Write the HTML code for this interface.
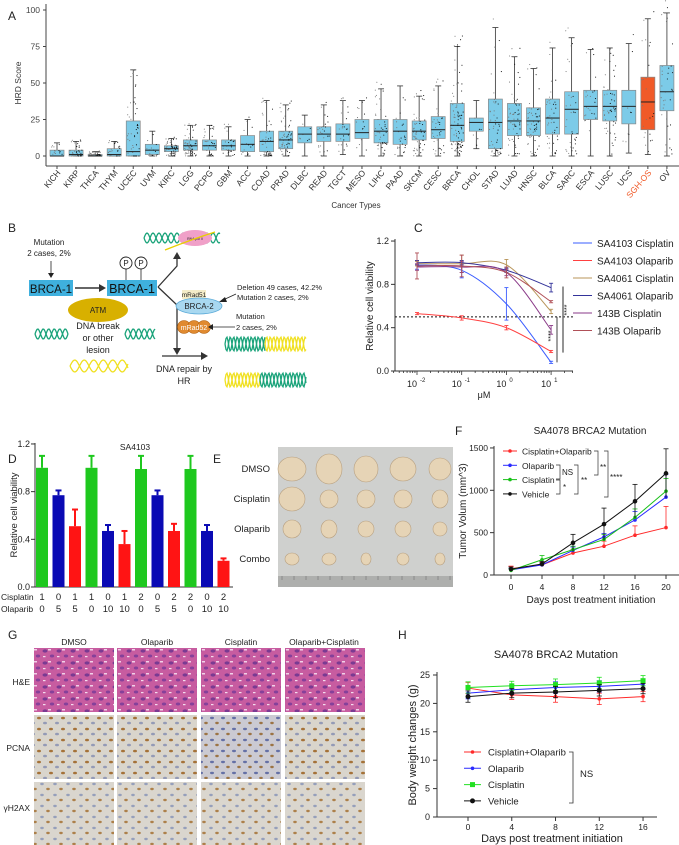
<!DOCTYPE html>
<html><head><meta charset="utf-8"><style>
html,body{margin:0;padding:0;background:#fff;}
svg{display:block;font-family:"Liberation Sans",Arial,sans-serif;}
</style></head><body>
<svg id="fig" width="679" height="845" viewBox="0 0 679 845" xmlns="http://www.w3.org/2000/svg">
<defs>
<pattern id="he" width="14" height="12" patternUnits="userSpaceOnUse">
<rect width="14" height="12" fill="#c75ca0"/>
<ellipse cx="3" cy="3" rx="2.5" ry="1.6" fill="#7a3a92"/>
<ellipse cx="10" cy="8" rx="2.2" ry="1.5" fill="#85409a"/>
<rect x="6" y="1" width="3" height="1.5" fill="#f0d0e8"/>
<rect x="1" y="8" width="2.5" height="1.2" fill="#f4dcee"/>
</pattern>
<pattern id="ihcA" width="12" height="11" patternUnits="userSpaceOnUse">
<rect width="12" height="11" fill="#d9d5cc"/>
<ellipse cx="3" cy="3" rx="2" ry="1.3" fill="#a57238"/>
<ellipse cx="9" cy="8" rx="2" ry="1.3" fill="#939ab6"/>
</pattern>
<pattern id="ihcB" width="13" height="11" patternUnits="userSpaceOnUse">
<rect width="13" height="11" fill="#dad6ce"/>
<ellipse cx="3" cy="3" rx="1.8" ry="1.2" fill="#959fbb"/>
<ellipse cx="9" cy="8" rx="1.8" ry="1.2" fill="#ad804a"/>
</pattern>
<pattern id="ihcC" width="11" height="11" patternUnits="userSpaceOnUse">
<rect width="11" height="11" fill="#cbcad2"/>
<ellipse cx="3" cy="3" rx="2" ry="1.2" fill="#6470a6"/>
<ellipse cx="8" cy="8" rx="1.8" ry="1.2" fill="#9c7444"/>
</pattern>
</defs>
</svg>
<script>
// ---------- DATA ----------
const cancerTypes=["KICH","KIRP","THCA","THYM","UCEC","UVM","KIRC","LGG","PCPG","GBM","ACC","COAD","PRAD","DLBC","READ","TGCT","MESO","LIHC","PAAD","SKCM","CESC","BRCA","CHOL","STAD","LUAD","HNSC","BLCA","SARC","ESCA","LUSC","UCS","SGH-OS","OV"];
const hrdMedian=[0,1,0,1,3,4,5,7,7,7,8,10,11,15,15,15,16,17,17,17,18,21,23,23,24,24,26,32,34,34,34,37,44];
const hrdQ1=[0,0,0,0,0,1,3,4,4,4,3,3,5,9,10,10,12,9,8,11,12,10,17,5,14,14,15,15,25,24,22,18,31];
const hrdQ3=[4,4,1,5,24,8,7,11,11,11,14,17,17,20,20,22,25,25,25,24,27,36,26,39,36,33,39,44,45,45,45,54,62];
const hrdLo=[0,0,0,0,0,0,0,0,0,0,0,0,0,0,0,1,0,0,0,0,0,0,5,0,0,0,0,0,0,0,2,1,0];
const hrdHi=[9,10,3,10,59,17,12,21,21,20,25,38,35,28,35,38,38,46,48,41,48,75,38,88,68,60,74,81,73,74,77,94,98];
const hrdCount=[20,40,50,25,60,15,50,60,30,30,15,45,55,8,25,25,15,50,25,50,35,90,6,50,55,55,45,35,25,55,10,25,35];
const hrdTicks=[0,25,50,75,100];

const concs=[0.01,0.1,1,10];
const cNames=["SA4103 Cisplatin","SA4103 Olaparib","SA4061 Cisplatin","SA4061 Olaparib","143B Cisplatin","143B Olaparib"];
const cS1=[0.98,0.93,0.62,0.08];
const cS2=[0.53,0.49,0.40,0.18];
const cS3=[0.99,0.99,0.98,0.55];
const cS4=[1.00,1.00,0.93,0.77];
const cS5=[0.96,0.96,0.91,0.38];
const cS6=[0.97,0.97,0.91,0.64];
const cErr=[[0.04,0.07,0.15,0.01],[0.01,0.02,0.02,0.01],[0.02,0.08,0.05,0.02],[0.02,0.02,0.02,0.04],[0.03,0.05,0.03,0.04],[0.12,0.1,0.05,0.01]];
const cTicks=[0,0.4,0.8,1.2];

const dCis=["1","0","1","1","0","1","2","0","2","2","0","2"];
const dOla=["0","5","5","0","10","10","0","5","5","0","10","10"];
const dVals=[1.0,0.77,0.51,1.0,0.47,0.36,0.99,0.77,0.47,0.99,0.47,0.22];
const dErr=[0.1,0.04,0.14,0.1,0.05,0.11,0.11,0.04,0.06,0.11,0.05,0.02];
const dTicks=[0,0.4,0.8,1.2];

const fDays=[0,4,8,12,16,20];
const fNames=["Cisplatin+Olaparib","Olaparib","Cisplatin","Vehicle"];
const fCombo=[75,120,260,340,470,560];
const fOla=[60,120,290,450,650,920];
const fCis=[55,180,300,420,680,990];
const fVeh=[70,130,380,600,870,1200];
const fComboErr=[30,30,40,60,110,250];
const fOlaErr=[20,20,40,40,100,270];
const fCisErr=[20,50,40,60,100,150];
const fVehErr=[25,30,100,190,200,290];
const fTicks=[0,500,1000,1500];

const hDays=[0,4,8,12,16];
const hCombo=[22.7,21.5,21.2,20.8,21.2];
const hOla=[21.8,22.4,22.8,23.0,23.4];
const hCis=[22.8,23.1,23.3,23.6,24.0];
const hVeh=[21.2,21.8,22.0,22.3,22.6];
const hErr=[1.0,0.8,1.0,1.0,0.9];
const hTicks=[0,5,10,15,20,25];

// ---------- HELPERS ----------
const svg=document.getElementById('fig');
const NS='http://www.w3.org/2000/svg';
function mk(tag,attrs,name,parent){
  const el=document.createElementNS(NS,tag);
  for(const k in attrs) el.setAttribute(k,attrs[k]);
  
  
  (parent||svg).appendChild(el);
  return el;
}
function txt(x,y,s,size,name,extra){
  const a=Object.assign({x:x,y:y,'font-size':size,fill:'#222'},extra||{});
  const t=mk('text',a,name);
  t.textContent=s;
  return t;
}
function line(x1,y1,x2,y2,stroke,w,name,extra){
  return mk('line',Object.assign({x1:x1,y1:y1,x2:x2,y2:y2,stroke:stroke,'stroke-width':w},extra||{}),name);
}
function crPath(pts){
  let d='M'+pts[0][0]+','+pts[0][1];
  for(let i=0;i<pts.length-1;i++){
    const p0=pts[i-1]||pts[i],p1=pts[i],p2=pts[i+1],p3=pts[i+2]||pts[i+1];
    const c1=[p1[0]+(p2[0]-p0[0])/6,p1[1]+(p2[1]-p0[1])/6];
    const c2=[p2[0]-(p3[0]-p1[0])/6,p2[1]-(p3[1]-p1[1])/6];
    d+=' C'+c1[0]+','+c1[1]+' '+c2[0]+','+c2[1]+' '+p2[0]+','+p2[1];
  }
  return d;
}
let seed=7;function rnd(){seed=(seed*16807)%2147483647;return seed/2147483647;}

// panel labels
[["A",8,20],["B",8,232],["C",414,232],["D",8,463],["E",213,463],["F",455,435],["G",8,639],["H",398,639]].forEach(p=>{
  txt(p[1],p[2],p[0],12,'panel-label-'+p[0].toLowerCase());
});

// ---------- PANEL A ----------
const xA=i=>57+i*19.06;
const yA=v=>156-v*1.46;
line(46,4,46,166,'#444',1,'a-y-axis');
line(46,166,679,166,'#444',1,'a-x-axis');
hrdTicks.forEach(t=>{
  line(43,yA(t),46,yA(t),'#444',1,'a-y-tick');
  txt(40,yA(t)+3,String(t),8.5,'a-y-tick-label',{'text-anchor':'end',fill:'#444'});
});
txt(0,0,'HRD Score',8.5,'a-y-axis-title',{transform:'translate(21,83) rotate(-90)','text-anchor':'middle',fill:'#333'});
txt(356,208,'Cancer Types',8,'a-x-axis-title',{'text-anchor':'middle',fill:'#333'});
cancerTypes.forEach((c,i)=>{
  const cx=xA(i),orange=c==='SGH-OS';
  line(cx,yA(hrdLo[i]),cx,yA(hrdHi[i]),'#333',0.8,'a-whisker-'+c);
  line(cx-3,yA(hrdHi[i]),cx+3,yA(hrdHi[i]),'#333',0.8,'a-whisker-cap-'+c);
  line(cx-3,yA(hrdLo[i]),cx+3,yA(hrdLo[i]),'#333',0.8,'a-whisker-cap-'+c);
  mk('rect',{x:cx-7,y:yA(hrdQ3[i]),width:14,height:Math.max(1,yA(hrdQ1[i])-yA(hrdQ3[i])),fill:orange?'#f05a28':'#7ccbe8',stroke:'#888','stroke-width':0.7},'a-box-'+c);
  const n=hrdCount[i];
  for(let k=0;k<n;k++){
    const u=rnd(),w=rnd();
    let v;
    if(u<0.5) v=hrdQ1[i]+(hrdQ3[i]-hrdQ1[i])*rnd();
    else if(u<0.8) v=hrdLo[i]+(hrdQ1[i]-hrdLo[i])*rnd();
    else v=hrdQ3[i]+(hrdHi[i]*1.1-hrdQ3[i])*rnd();
    mk('circle',{cx:cx-6+12*w,cy:yA(v),r:0.55,fill:w>0.5?'#111':'#777'},'a-point-'+c);
  }
  line(cx-7,yA(hrdMedian[i]),cx+7,yA(hrdMedian[i]),'#222',1,'a-median-'+c);
  line(cx,166,cx,169,'#444',1,'a-x-tick');
  txt(0,0,c,8.5,'a-x-tick-label-'+c,{transform:'translate('+(cx+4)+',173) rotate(-50)','text-anchor':'end',fill:orange?'#f05a28':'#333'});
});

// ---------- PANEL B (diagram) ----------
function helix(x0,x1,y,amp,per,col,name){
  let d1='',d2='';
  for(let x=x0;x<=x1;x+=1){
    const a=Math.sin((x-x0)/per*2*Math.PI)*amp;
    d1+=(x===x0?'M':'L')+x+','+(y+a);
    d2+=(x===x0?'M':'L')+x+','+(y-a);
  }
  mk('path',{d:d1,fill:'none',stroke:col,'stroke-width':1.3},name);
  mk('path',{d:d2,fill:'none',stroke:col,'stroke-width':1.3},name);
}
txt(49,245,'Mutation',8,'b-mutation-text-1',{'text-anchor':'middle'});
txt(49,256,'2 cases, 2%',8,'b-mutation-text-1b',{'text-anchor':'middle'});
line(51,261,51,276,'#222',0.8,'b-arrow-mutation-1');
mk('path',{d:'M48,273 L51,278 L54,273 Z',fill:'#222'},'b-arrowhead');
mk('rect',{x:29,y:280,width:44,height:16,fill:'#3fb0de'},'b-brca1-box');
txt(51,293,'BRCA-1',11.5,'b-brca1-label',{'text-anchor':'middle',fill:'#111'});
line(75,288,101,288,'#333',1.5,'b-arrow-brca1');
mk('path',{d:'M99,284 L106,288 L99,292 Z',fill:'#333'},'b-arrowhead');
mk('rect',{x:107,y:280,width:50,height:16,fill:'#3fb0de'},'b-brca1-p-box');
txt(132,293,'BRCA-1',12.5,'b-brca1-p-label',{'text-anchor':'middle',fill:'#111'});
[126,141].forEach(x=>{
  line(x,268,x,280,'#222',0.8,'b-phospho-stem');
  mk('circle',{cx:x,cy:263,r:6,fill:'#fff',stroke:'#222','stroke-width':0.9},'b-phospho-circle');
  txt(x,266,'P',8,'b-phospho-label',{'text-anchor':'middle'});
});
mk('path',{d:'M158,287 L177,266 L177,258',fill:'none',stroke:'#333','stroke-width':1.3},'b-branch-up');
mk('path',{d:'M173,259 L177,252 L181,259 Z',fill:'#333'},'b-arrowhead');
mk('path',{d:'M158,287 L177,305 L177,350',fill:'none',stroke:'#333','stroke-width':1.3},'b-branch-down');
mk('path',{d:'M173,348 L177,355 L181,348 Z',fill:'#333'},'b-arrowhead');
line(162,356,203,356,'#333',1.3,'b-arrow-hr');
mk('path',{d:'M201,352 L208,356 L201,360 Z',fill:'#333'},'b-arrowhead');
helix(144,220,238,5,12,'#1aa37a','b-dna-top');
mk('ellipse',{cx:195,cy:238,rx:17,ry:8,fill:'#f0a0c8'},'b-rna-pol');
txt(195,240,'RNA pol II',3.5,'b-rna-pol-label',{'text-anchor':'middle'});
mk('path',{d:'M165,250 Q190,240 215,232',fill:'none',stroke:'#e8d000','stroke-width':1.3},'b-rna-strand');
mk('rect',{x:182,y:290,width:24,height:9,fill:'#f4ecc8'},'b-mrad51-box');
txt(194,297,'mRad51',6.5,'b-mrad51-label',{'text-anchor':'middle'});
mk('ellipse',{cx:199,cy:306,rx:23,ry:8,fill:'#a8d8f0',stroke:'#5aaad8','stroke-width':0.8},'b-brca2');
txt(199,309,'BRCA-2',8,'b-brca2-label',{'text-anchor':'middle'});
[184,194,204].forEach(x=>mk('circle',{cx:x,cy:327,r:6.5,fill:'#e08a30',stroke:'#b06010','stroke-width':0.6},'b-mrad52-sphere'));
txt(194,330,'mRad52',7,'b-mrad52-label',{'text-anchor':'middle',fill:'#fff'});
txt(237,290,'Deletion  49 cases, 42.2%',7.5,'b-deletion-text');
txt(237,300,'Mutation  2 cases, 2%',7.5,'b-mutation-text-2');
line(236,294,223,300,'#222',0.8,'b-arrow-deletion');
mk('path',{d:'M225,297 L219,302 L227,302 Z',fill:'#222'},'b-arrowhead');
txt(236,319,'Mutation',7.5,'b-mutation-text-3');
txt(236,330,'2 cases, 2%',7.5,'b-mutation-text-3b');
line(235,327,212,327,'#222',0.8,'b-arrow-mutation-3');
mk('path',{d:'M213,324 L208,327 L213,330 Z',fill:'#222'},'b-arrowhead');
mk('ellipse',{cx:98,cy:310,rx:30,ry:12,fill:'#d8b000'},'b-atm');
txt(98,313,'ATM',8,'b-atm-label',{'text-anchor':'middle'});
txt(98,329,'DNA break',9,'b-dna-break-text',{'text-anchor':'middle'});
txt(98,341,'or other',9,'b-dna-break-text-2',{'text-anchor':'middle'});
txt(98,353,'lesion',9,'b-dna-break-text-3',{'text-anchor':'middle'});
helix(35,68,334,5,11,'#1aa37a','b-dna-broken-left');
helix(125,155,334,5,11,'#1aa37a','b-dna-broken-right');
helix(70,128,366,6,19,'#f0e020','b-dna-yellow');
txt(184,372,'DNA repair by',9,'b-dna-repair-text',{'text-anchor':'middle'});
txt(184,384,'HR',9,'b-dna-repair-text-2',{'text-anchor':'middle'});
helix(225,265,344,7,7,'#1aa37a','b-dna-repaired-1a');
helix(265,306,344,7,7,'#f0e020','b-dna-repaired-1b');
helix(225,260,380,7,7,'#f0e020','b-dna-repaired-2a');
helix(260,306,380,7,7,'#1aa37a','b-dna-repaired-2b');

// ---------- PANEL C ----------
const xC=c=>417+(Math.log10(c)+2)*44.7;
const yC=v=>371-v*108.3;
const cCols=['#3a5cff','#ff4040','#b8955a','#33339a','#8a3a88','#b05058'];
const cSeries=[cS1,cS2,cS3,cS4,cS5,cS6];
line(395,239,395,371,'#333',1,'c-y-axis');
line(395,371,573,371,'#333',1,'c-x-axis');
cTicks.forEach(t=>{
  line(391,yC(t),395,yC(t),'#333',1,'c-y-tick');
  txt(389,yC(t)+3,t.toFixed(1),9,'c-y-tick-label',{'text-anchor':'end'});
});
for(let e=-3;e<=1;e++){
  for(let m=1;m<10;m++){
    const v=m*Math.pow(10,e);
    if(v<0.003||v>35)continue;
    line(xC(v),371,xC(v),m===1?375:373,'#333',0.8,'c-x-tick');
  }
}
[-2,-1,0,1].forEach(e=>{
  txt(xC(Math.pow(10,e))-5,387,'10',9,'c-x-tick-label',{'text-anchor':'middle'});
  txt(xC(Math.pow(10,e))+3,382,String(e),6,'c-x-tick-exp');
});
txt(484,398,'μM',9,'c-x-axis-title',{'text-anchor':'middle'});
txt(0,0,'Relative cell viability',10,'c-y-axis-title',{transform:'translate(373,306) rotate(-90)','text-anchor':'middle'});
line(395,yC(0.5),573,yC(0.5),'#111',1,'c-ic50-line',{'stroke-dasharray':'2,2'});
cSeries.forEach((s,si)=>{
  const pts=concs.map((c,i)=>[xC(c),yC(s[i])]);
  mk('path',{d:crPath(pts),fill:'none',stroke:cCols[si],'stroke-width':1},'c-curve-'+si);
  concs.forEach((c,i)=>{
    const e=cErr[si][i],x=xC(c);
    line(x,yC(s[i]+e),x,yC(s[i]-e),cCols[si],0.9,'c-errorbar');
    line(x-2,yC(s[i]+e),x+2,yC(s[i]+e),cCols[si],0.9,'c-errorcap');
    line(x-2,yC(s[i]-e),x+2,yC(s[i]-e),cCols[si],0.9,'c-errorcap');
  });
  const ly=243+si*17.5;
  line(573,ly,592,ly,cCols[si],1,'c-legend-line-'+si);
  txt(597,ly+4,cNames[si],10,'c-legend-entry-'+si);
});
line(557,yC(0.5),557,yC(0.08),'#111',0.8,'c-sig-bar-1');
txt(0,0,'****',7,'c-sig-label-1',{transform:'translate(553,336) rotate(-90)','text-anchor':'middle'});
line(563,yC(0.78),563,yC(0.17),'#666',1.4,'c-sig-bar-2');
txt(0,0,'****',7,'c-sig-label-2',{transform:'translate(569,310) rotate(-90)','text-anchor':'middle'});

// ---------- PANEL D ----------
const xD=i=>42+i*16.5;
const yD=v=>587-v*119.2;
const dCols=['#1ec81e','#0a0ab4','#ff1414'];
line(35,443,35,587,'#333',1,'d-y-axis');
line(35,587,233,587,'#333',1,'d-x-axis');
dTicks.forEach(t=>{
  line(31,yD(t),35,yD(t),'#333',1,'d-y-tick');
  txt(30,yD(t)+3,t.toFixed(1),9,'d-y-tick-label',{'text-anchor':'end'});
});
txt(0,0,'Relative cell viability',9.5,'d-y-axis-title',{transform:'translate(17,515) rotate(-90)','text-anchor':'middle'});
txt(135,450,'SA4103',8.5,'d-title',{'text-anchor':'middle'});
dVals.forEach((v,i)=>{
  const col=dCols[i%3],x=xD(i);
  line(x,yD(v),x,yD(v+dErr[i]),col,2,'d-errorbar');
  line(x-3,yD(v+dErr[i]),x+3,yD(v+dErr[i]),col,2,'d-errorcap');
  mk('rect',{x:x-6,y:yD(v),width:12,height:yD(0)-yD(v),fill:col},'d-bar-'+i);
  txt(x,600,dCis[i],9.5,'d-cisplatin-dose',{'text-anchor':'middle'});
  txt(x,612,dOla[i],9.5,'d-olaparib-dose',{'text-anchor':'middle'});
});
txt(1,600,'Cisplatin',8.5,'d-row-label-cisplatin');
txt(1,612,'Olaparib',8.5,'d-row-label-olaparib');

// ---------- PANEL E (photo) ----------
mk('rect',{x:278,y:447,width:175,height:140,fill:'#cfd0ce'},'e-photo');
mk('rect',{x:278,y:576,width:175,height:11,fill:'#aeafad'},'e-ruler');
for(let k=0;k<15;k++) line(282+k*12,576,282+k*12,580,'#666',0.5,'e-ruler-mark');
const eRows=["DMSO","Cisplatin","Olaparib","Combo"];
const eSizes=[[[14,12],[13,15],[12,13],[13,12],[11,11]],[[13,12],[9,9],[9,9],[9,9],[8,9]],[[9,9],[8,9],[8,8],[8,8],[7,7]],[[7,6],[7,6],[5,6],[6,6],[5,6]]];
eRows.forEach((r,ri)=>{
  const y=469+ri*30;
  txt(270,y+3,r,9.5,'e-row-label-'+r.toLowerCase(),{'text-anchor':'end'});
  eSizes[ri].forEach((s,ci)=>{
    mk('ellipse',{cx:292+ci*37,cy:y,rx:s[0],ry:s[1],fill:'#e6d4b6',stroke:'#b8a080','stroke-width':0.6},'e-tumor');
  });
});

// ---------- PANEL F ----------
const xF=d=>511+d*7.75;
const yF=v=>575-v*0.0847;
const fCols=['#ff2a2a','#2a2aff','#18c018','#111'];
const fSeries=[fCombo,fOla,fCis,fVeh];
const fErrs=[fComboErr,fOlaErr,fCisErr,fVehErr];
txt(590,434,'SA4078 BRCA2 Mutation',10,'f-title',{'text-anchor':'middle'});
line(494,446,494,575,'#333',1,'f-y-axis');
line(494,575,679,575,'#333',1,'f-x-axis');
fTicks.forEach(t=>{
  line(490,yF(t),494,yF(t),'#333',1,'f-y-tick');
  txt(488,yF(t)+3,String(t),8.5,'f-y-tick-label',{'text-anchor':'end'});
});
fDays.forEach(d=>{
  line(xF(d),575,xF(d),579,'#333',1,'f-x-tick');
  txt(xF(d),590,String(d),8.5,'f-x-tick-label',{'text-anchor':'middle'});
});
txt(591,603,'Days post treatment initiation',10,'f-x-axis-title',{'text-anchor':'middle'});
txt(0,0,'Tumor Volum (mm^3)',10,'f-y-axis-title',{transform:'translate(466,511) rotate(-90)','text-anchor':'middle'});
fSeries.forEach((s,si)=>{
  const pts=fDays.map((d,i)=>xF(d)+','+yF(s[i])).join(' ');
  mk('polyline',{points:pts,fill:'none',stroke:fCols[si],'stroke-width':1},'f-line-'+si);
  fDays.forEach((d,i)=>{
    const x=xF(d),y=yF(s[i]),e=fErrs[si][i];
    line(x,y,x,yF(s[i]+e),fCols[si],0.8,'f-errorbar');
    line(x-2.5,yF(s[i]+e),x+2.5,yF(s[i]+e),fCols[si],0.8,'f-errorcap');
    if(si===3) line(x,y,x,yF(s[i]-e),fCols[si],0.8,'f-errorbar');
    mk('circle',{cx:x,cy:y,r:si===3?2.3:1.8,fill:fCols[si]},'f-point-'+si);
  });
  const ly=451+si*14.3;
  line(503,ly,517,ly,fCols[si],1,'f-legend-line-'+si);
  mk('circle',{cx:510,cy:ly,r:1.8,fill:fCols[si]},'f-legend-marker-'+si);
  txt(522,ly+3.5,fNames[si],8.5,'f-legend-entry-'+si);
});
mk('path',{d:'M556,465 L560,465 L560,479 L556,479',fill:'none',stroke:'#333','stroke-width':0.7},'f-bracket-ns');
txt(562,475,'NS',8,'f-sig-ns');
mk('path',{d:'M556,480 L560,480 L560,494 L556,494',fill:'none',stroke:'#333','stroke-width':0.7},'f-bracket-star');
txt(563,490,'*',8,'f-sig-star');
mk('path',{d:'M574,465 L578,465 L578,494 L574,494',fill:'none',stroke:'#333','stroke-width':0.7},'f-bracket-2star');
txt(581,483,'**',8,'f-sig-2star');
mk('path',{d:'M594,451 L598,451 L598,475 L594,475',fill:'none',stroke:'#333','stroke-width':0.7},'f-bracket-2star-b');
txt(600,470,'**',8,'f-sig-2star-b');
mk('path',{d:'M604,451 L608,451 L608,497 L604,497',fill:'none',stroke:'#333','stroke-width':0.7},'f-bracket-4star');
txt(610,480,'****',8,'f-sig-4star');

// ---------- PANEL G ----------
const gCols=[["DMSO",34,74],["Olaparib",117,157],["Cisplatin",201,241],["Olaparib+Cisplatin",285,324]];
const gRows=[["H&E",648,682,'he'],["PCNA",715,748,'ihcA'],["γH2AX",782,808,'ihcB']];
gCols.forEach((c,ci)=>{
  txt(c[2],645,c[0],8.5,'g-column-label',{'text-anchor':'middle'});
  gRows.forEach((r,ri)=>{
    let pat=r[3];
    if(ri===1&&ci===2) pat='ihcC';
    mk('rect',{x:c[1],y:r[1],width:80,height:ri===2?63:64,fill:'url(#'+pat+')'},'g-histology-'+r[0]+'-'+c[0]);
  });
});
gRows.forEach(r=>txt(30,r[2]+3,r[0],8.5,'g-row-label',{'text-anchor':'end'}));

// ---------- PANEL H ----------
const xH=d=>468+d*10.94;
const yH=v=>817-v*5.68;
const hSeries=[hCombo,hOla,hCis,hVeh];
const hCols=['#ff2a2a','#2a2aff','#22e022','#111'];
txt(556,658,'SA4078 BRCA2 Mutation',11,'h-title',{'text-anchor':'middle'});
line(437,672,437,817,'#333',1,'h-y-axis');
line(437,817,657,817,'#333',1,'h-x-axis');
hTicks.forEach(t=>{
  line(433,yH(t),437,yH(t),'#333',1,'h-y-tick');
  txt(430,yH(t)+3,String(t),9,'h-y-tick-label',{'text-anchor':'end'});
});
hDays.forEach(d=>{
  line(xH(d),817,xH(d),821,'#333',1,'h-x-tick');
  txt(xH(d),830,String(d),8.5,'h-x-tick-label',{'text-anchor':'middle'});
});
txt(552,842,'Days post treatment initiation',11,'h-x-axis-title',{'text-anchor':'middle'});
txt(0,0,'Body weight changes (g)',11,'h-y-axis-title',{transform:'translate(416,745) rotate(-90)','text-anchor':'middle'});
hSeries.forEach((s,si)=>{
  const pts=hDays.map((d,i)=>xH(d)+','+yH(s[i])).join(' ');
  mk('polyline',{points:pts,fill:'none',stroke:hCols[si],'stroke-width':1},'h-line-'+si);
  hDays.forEach((d,i)=>{
    const x=xH(d),y=yH(s[i]),e=hErr[i];
    line(x,yH(s[i]-e),x,yH(s[i]+e),hCols[si],0.8,'h-errorbar');
    line(x-2.5,yH(s[i]+e),x+2.5,yH(s[i]+e),hCols[si],0.8,'h-errorcap');
    line(x-2.5,yH(s[i]-e),x+2.5,yH(s[i]-e),hCols[si],0.8,'h-errorcap');
    if(si===2) mk('rect',{x:x-2.5,y:y-2.5,width:5,height:5,fill:hCols[si]},'h-point-'+si);
    else mk('circle',{cx:x,cy:y,r:si===3?2.5:1.8,fill:hCols[si]},'h-point-'+si);
  });
  const ly=752+si*16.3;
  line(464,ly,481,ly,hCols[si],1,'h-legend-line-'+si);
  if(si===2) mk('rect',{x:470,y:ly-2.5,width:5,height:5,fill:hCols[si]},'h-legend-marker-'+si);
  else mk('circle',{cx:472.5,cy:ly,r:si===3?2.5:1.8,fill:hCols[si]},'h-legend-marker-'+si);
  txt(488,ly+3.5,fNames[si],9.5,'h-legend-entry-'+si);
});
mk('path',{d:'M569,752 L573,752 L573,803 L569,803',fill:'none',stroke:'#333','stroke-width':0.8},'h-bracket-ns');
txt(580,777,'NS',9.5,'h-sig-ns');
</script>
</body></html>
